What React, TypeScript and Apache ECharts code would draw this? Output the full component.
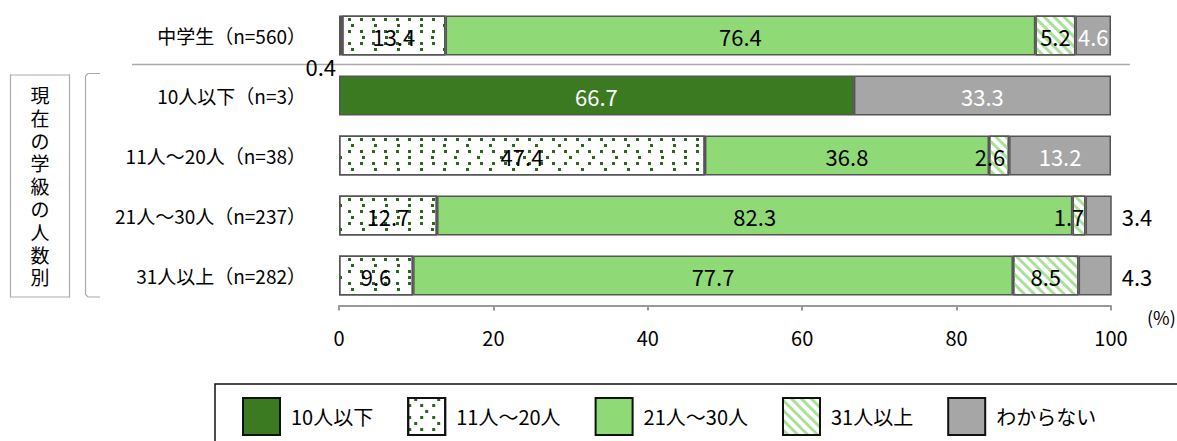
import React, { useEffect, useRef } from 'react';
import * as echarts from 'echarts';

// Row labels (top to bottom) and legend entries
const categories = [
  '中学生（n=560）',
  '10人以下（n=3）',
  '11人～20人（n=38）',
  '21人～30人（n=237）',
  '31人以上（n=282）',
];
const seriesNames = ['10人以下', '11人～20人', '21人～30人', '31人以上', 'わからない'];

// Share of answers (%) per row
const upTo10 = [0.4, 66.7, 0, 0, 0];
const from11to20 = [13.4, 0, 47.4, 12.7, 9.6];
const from21to30 = [76.4, 0, 36.8, 82.3, 77.7];
const over31 = [5.2, 0, 2.6, 1.7, 8.5];
const unknown = [4.6, 33.3, 13.2, 3.4, 4.3];

const xMin = 0;
const xMax = 100;
const xStep = 20;

const groupTitle = '現在の学級の人数別';
const unitLabel = '(%)';

const FONT = '"Noto Sans CJK JP", "Noto Sans", sans-serif';
// Latin face first keeps the stacked caption's line boxes compact; CJK glyphs fall back to Noto
const CAPTION_FONT = '"Liberation Sans", "Noto Sans CJK JP", sans-serif';

// per-segment label tweaks, keyed "series-row"
const labelTweaks: Record<string, any> = {
  '0-0': { position: 'left', distance: 3, offset: [0, 30], color: '#000' },
  '3-2': { offset: [-9, 0] },
  '3-3': { offset: [-10, 0] },
  '4-3': { position: 'right', distance: 10, color: '#000' },
  '4-4': { position: 'right', distance: 10, color: '#000' },
};

const dotDecal = {
  symbol: 'rect',
  symbolSize: 1,
  color: '#2b661c',
  backgroundColor: '#ffffff',
  dashArrayX: [
    [2.6, 8.4],
    [0, 5.5, 2.6, 13.9],
    [2.6, 8.4],
    [0, 16.5, 2.6, 2.9],
  ],
  dashArrayY: [2.6, 2.9],
};

const stripeDecal = {
  symbol: 'rect',
  symbolSize: 1,
  color: '#a9e09a',
  backgroundColor: '#ffffff',
  dashArrayX: [1, 0],
  dashArrayY: [3, 4],
  rotation: Math.PI / 4,
};

const seriesValues = [upTo10, from11to20, from21to30, over31, unknown];
const seriesStyles = [
  { color: '#3c7a22', labelColor: '#ffffff' },
  { color: '#ffffff', labelColor: '#000000', decal: dotDecal },
  { color: '#8fd977', labelColor: '#000000' },
  { color: '#ffffff', labelColor: '#000000', decal: stripeDecal },
  { color: '#a6a6a6', labelColor: '#ffffff' },
];

function buildSeries() {
  return seriesValues.map((values, si) => {
    const st = seriesStyles[si];
    return {
      name: seriesNames[si],
      type: 'bar',
      stack: 'total',
      barWidth: 40,
      itemStyle: {
        color: st.color,
        borderColor: '#555555',
        borderWidth: 1.5,
        ...(st.decal ? { decal: st.decal } : {}),
      },
      label: {
        show: true,
        position: 'inside',
        color: st.labelColor,
        fontSize: 22,
        fontFamily: FONT,
        formatter: (p: any) => Number(p.value).toFixed(1),
      },
      data: values.map((v, ri) => {
        if (!v) return null;
        const tweak = labelTweaks[`${si}-${ri}`];
        return tweak ? { value: v, label: tweak } : v;
      }),
    };
  });
}

export default function App() {
  const ref = useRef<HTMLDivElement>(null);

  useEffect(() => {
    if (!ref.current) return;
    const chart = echarts.init(ref.current, null, { renderer: 'svg' });

    const legendWidths = [93, 118, 118, 92, 118];

    // vertical caption, one glyph per element
    const captionChars = groupTitle.split('').map((ch, i) => ({
      type: 'text',
      x: 40,
      y: 87 + i * 22.8,
      style: {
        text: ch,
        font: `19px ${CAPTION_FONT}`,
        fill: '#000',
        align: 'center',
      },
    }));

    const option: any = {
      animation: false,
      textStyle: { fontFamily: FONT },
      grid: { left: 339, right: 66, top: 5.5, height: 300, containLabel: false },
      xAxis: {
        type: 'value',
        min: xMin,
        max: xMax,
        interval: xStep,
        splitLine: { show: false },
        axisLine: { show: true, lineStyle: { color: '#999999', width: 2 } },
        axisTick: { show: true, length: 5, lineStyle: { color: '#999999', width: 2 } },
        axisLabel: { fontSize: 20, color: '#000', margin: 22, fontFamily: FONT },
      },
      yAxis: {
        type: 'category',
        inverse: true,
        data: categories,
        axisLine: { show: false },
        axisTick: { show: false },
        axisLabel: { fontSize: 19, color: '#000', margin: 33, fontFamily: FONT },
      },
      legend: {
        left: 242,
        top: 397,
        padding: 0,
        itemWidth: 37,
        itemHeight: 37,
        itemGap: 34,
        icon: 'rect',
        itemStyle: { borderColor: '#111111', borderWidth: 2 },
        textStyle: { fontSize: 20, color: '#000', fontFamily: FONT, padding: [0, 0, 0, 6] },
        data: seriesNames.map((n, i) => ({
          name: n,
          textStyle: { width: legendWidths[i] },
        })),
      },
      graphic: [
        // legend frame
        {
          type: 'rect',
          x: 215,
          y: 384,
          shape: { width: 1000, height: 100 },
          style: { fill: 'none', stroke: '#111111', lineWidth: 1.5 },
          silent: true,
        },
        // separator between school total and class-size rows
        {
          type: 'line',
          shape: { x1: 132, y1: 64.5, x2: 1130, y2: 64.5 },
          style: { stroke: '#aaaaaa', lineWidth: 1.5 },
        },
        // group caption box
        {
          type: 'rect',
          x: 10.5,
          y: 75,
          shape: { width: 59, height: 222 },
          style: { fill: 'none', stroke: '#aaaaaa', lineWidth: 1.2 },
        },
        ...captionChars,
        // bracket
        {
          type: 'polyline',
          shape: {
            points: [
              [100, 73.5],
              [88, 73.5],
              [85.5, 76],
              [85.5, 294.5],
              [88, 297],
              [100, 297],
            ],
          },
          style: { fill: 'none', stroke: '#aaaaaa', lineWidth: 1.2 },
        },
        {
          type: 'text',
          x: 1147,
          y: 308,
          style: { text: unitLabel, font: `18px ${FONT}`, fill: '#000' },
        },
      ],
      series: buildSeries(),
    };

    chart.setOption(option);
    return () => chart.dispose();
  }, []);

  return (
    <div
      ref={ref}
      style={{ position: 'absolute', left: 0, top: 0, width: 1177, height: 441 }}
    />
  );
}
